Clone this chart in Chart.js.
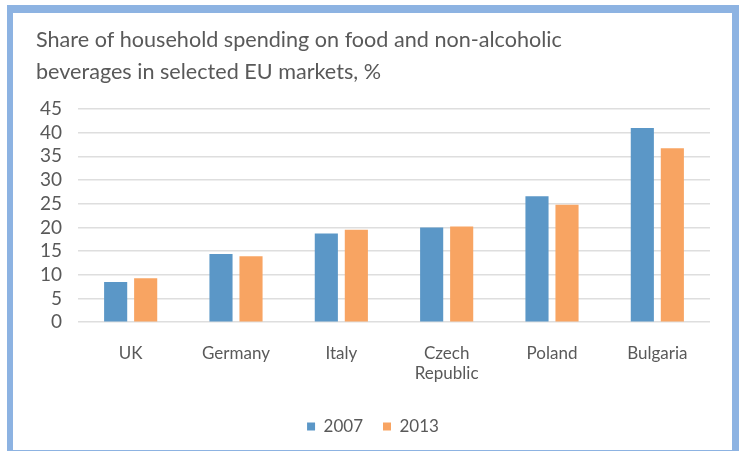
<!DOCTYPE html>
<html>
<head>
<meta charset="utf-8">
<script src="https://cdn.jsdelivr.net/npm/chart.js@4.4.1/dist/chart.umd.min.js"></script>
<style>
  html, body { margin: 0; padding: 0; background: #fff; }
  #frame {
    position: absolute;
    left: 7px;
    top: 5px;
    width: 719px;
    height: 437px;
    border-left: 6px solid #8db3e2;
    border-top: 8px solid #8db3e2;
    border-right: 7px solid #8db3e2;
    border-bottom: 2px solid #8db3e2;
    background: #fff;
  }
  #chart { display: block; }
</style>
</head>
<body>
<div id="frame"><canvas id="chart" width="719" height="437"></canvas></div>
<script>
  var categories = ["UK", "Germany", "Italy", ["Czech", "Republic"], "Poland", "Bulgaria"];
  var values2007 = [8.5, 14.4, 18.7, 20.0, 26.6, 41.0];
  var values2013 = [9.3, 13.9, 19.5, 20.2, 24.8, 36.7];
  var yTicks = [0, 5, 10, 15, 20, 25, 30, 35, 40, 45];

  var textColor = "#595959";
  var fontFamily = "Lato, 'Open Sans', sans-serif";

  new Chart(document.getElementById("chart"), {
    type: "bar",
    data: {
      labels: categories,
      datasets: [
        {
          label: "2007",
          data: values2007,
          backgroundColor: "#5b97c7",
          categoryPercentage: 0.57,
          barPercentage: 0.77,
        },
        {
          label: "2013",
          data: values2013,
          backgroundColor: "#f8a462",
          categoryPercentage: 0.57,
          barPercentage: 0.77,
        },
      ],
    },
    options: {
      responsive: false,
      animation: false,
      layout: { padding: { left: 23, right: 22, top: 0, bottom: 5 } },
      scales: {
        y: {
          min: yTicks[0],
          max: yTicks[yTicks.length - 1],
          afterBuildTicks: function (axis) {
            axis.ticks = yTicks.map(function (v) { return { value: v }; });
          },
          afterFit: function (axis) { axis.width = 42; },
          border: { display: false },
          grid: { color: "#dedede", lineWidth: 1.5, drawTicks: false },
          ticks: {
            autoSkip: false,
            color: textColor,
            padding: 16,
            font: { family: fontFamily, size: 19 },
          },
        },
        x: {
          afterFit: function (axis) { axis.height = axis.height - 7; },
          border: { display: false },
          grid: { display: false, drawTicks: false },
          ticks: {
            color: textColor,
            padding: 21,
            font: { family: fontFamily, size: 17 },
          },
        },
      },
      plugins: {
        title: {
          display: true,
          align: "start",
          text: ["Share of household spending on food and non-alcoholic", "beverages in selected EU markets, %"],
          color: textColor,
          font: { family: fontFamily, size: 21.6, weight: "normal", lineHeight: 1.48 },
          padding: { top: 11, bottom: 21 },
        },
        legend: {
          position: "bottom",
          labels: {
            color: textColor,
            boxWidth: 8,
            boxHeight: 8,
            padding: 20,
            font: { family: fontFamily, size: 17 },
          },
        },
        tooltip: { enabled: false },
      },
    },
  });
</script>
</body>
</html>
